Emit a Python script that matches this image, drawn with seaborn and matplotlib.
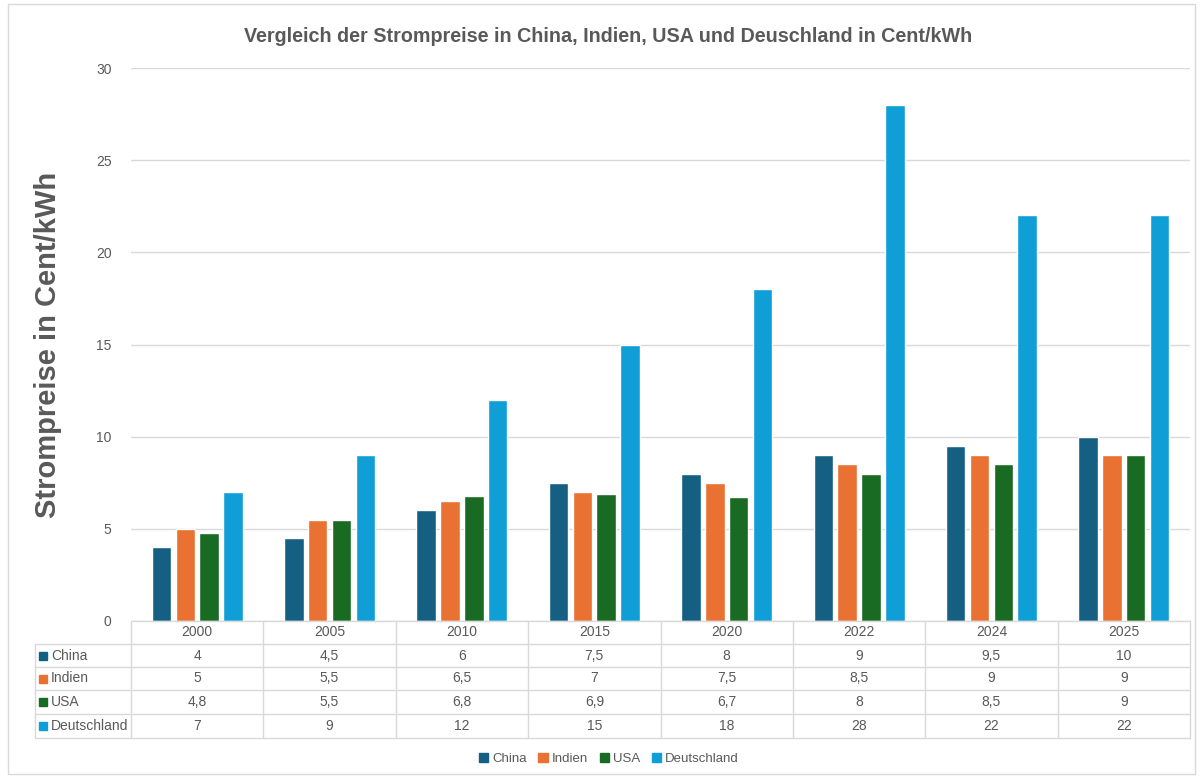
import pandas as pd
import numpy as np
import matplotlib.pyplot as plt
import seaborn as sns
from matplotlib.patches import Rectangle

years = ['2000', '2005', '2010', '2015', '2020', '2022', '2024', '2025']
countries = ['China', 'Indien', 'USA', 'Deutschland']
china = [4, 4.5, 6, 7.5, 8, 9, 9.5, 10]
indien = [5, 5.5, 6.5, 7, 7.5, 8.5, 9, 9]
usa = [4.8, 5.5, 6.8, 6.9, 6.7, 8, 8.5, 9]
deutschland = [7, 9, 12, 15, 18, 28, 22, 22]
colors = ['#156082', '#E97132', '#196B24', '#0F9ED5']

df = pd.DataFrame({'Jahr': years, 'China': china, 'Indien': indien,
                   'USA': usa, 'Deutschland': deutschland})
long = df.melt(id_vars='Jahr', var_name='Land', value_name='Preis')

sns.set_style('white')
plt.rcParams['font.family'] = ['Liberation Sans', 'DejaVu Sans']
grey = '#595959'

W, H = 1200, 778
fig = plt.figure(figsize=(12, 7.78), dpi=100)
fig.patches.append(Rectangle((8 / W, 4 / H), 1187 / W, 770 / H, transform=fig.transFigure,
                             fill=False, edgecolor='#d9d9d9', linewidth=1))

left, right, top, bottom = 131, 1190, 68, 621
ax = fig.add_axes([left / W, 1 - bottom / H, (right - left) / W, (bottom - top) / H])
sns.barplot(data=long, x='Jahr', y='Preis', hue='Land', palette=colors,
            width=0.72, gap=0.18, saturation=1, ax=ax, legend=False)
ax.set_ylim(0, 30)
ax.set_yticks(range(0, 31, 5))
ax.set_xlim(-0.5, len(years) - 0.5)
ax.yaxis.grid(True, color='#d9d9d9', linewidth=1)
ax.set_axisbelow(True)
for s in ax.spines.values():
    s.set_visible(False)
ax.set_xticks([])
ax.set_xlabel('')
ax.set_ylabel('')
ax.tick_params(axis='y', length=0, labelsize=10, labelcolor=grey, pad=14)

fig.text(608 / W, 1 - 37 / H, 'Vergleich der Strompreise in China, Indien, USA und Deuschland in Cent/kWh',
         ha='center', va='center', fontsize=14.2, fontweight='bold', color=grey)
fig.text(48 / W, 1 - 345 / H, 'Strompreise in Cent/kWh', rotation=90, ha='center', va='center',
         fontsize=21, fontweight='bold', color=grey)

# data table
tab_left = 35
row_y = [621, 644, 667, 690, 714, 738]
tx = fig.add_axes([0, 0, 1, 1])
tx.set_xlim(0, W)
tx.set_ylim(H, 0)
tx.axis('off')
lc = '#d9d9d9'
col_w = (right - left) / len(years)
tx.plot([left, right], [row_y[0]] * 2, color=lc, lw=1)
for y in row_y[1:]:
    tx.plot([tab_left, right], [y, y], color=lc, lw=1)
tx.plot([tab_left, tab_left], [row_y[1], row_y[-1]], color=lc, lw=1)
for i in range(len(years) + 1):
    tx.plot([left + i * col_w] * 2, [row_y[0], row_y[-1]], color=lc, lw=1)

for i, yr in enumerate(years):
    tx.text(left + (i + 0.5) * col_w, (row_y[0] + row_y[1]) / 2, yr, ha='center', va='center',
            fontsize=10, color=grey)
series = [china, indien, usa, deutschland]
for r, (name, vals, c) in enumerate(zip(countries, series, colors)):
    yc = (row_y[r + 1] + row_y[r + 2]) / 2
    tx.add_patch(Rectangle((39, yc - 4), 8, 8, color=c))
    tx.text(51, yc, name, ha='left', va='center', fontsize=10, color=grey)
    for i, v in enumerate(vals):
        txt = f'{v:g}'.replace('.', ',')
        tx.text(left + (i + 0.5) * col_w, yc, txt, ha='center', va='center',
                fontsize=10, color=grey)

handles = [Rectangle((0, 0), 1, 1, color=c) for c in colors]
fig.legend(handles, countries, loc='center', bbox_to_anchor=(609 / W, 1 - 759 / H), ncol=4,
           frameon=False, handlelength=0.7, handleheight=0.7, handletextpad=0.3,
           columnspacing=0.9, prop={'size': 9.5}, labelcolor=grey)

fig.savefig('out.png', dpi=100)
